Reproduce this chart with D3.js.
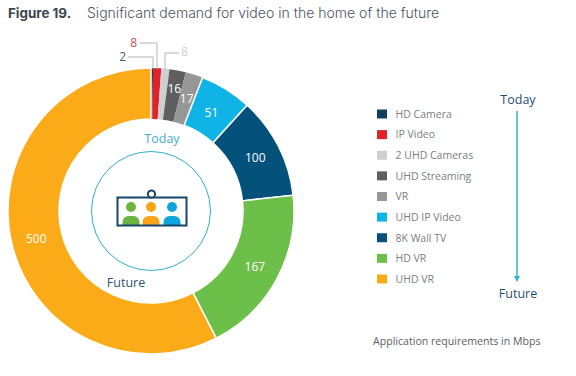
<!DOCTYPE html>
<html>
<head>
<meta charset="utf-8">
<script src="https://cdn.jsdelivr.net/npm/d3@7"></script>
<style>
  html, body { margin: 0; padding: 0; background: #fff; }
  svg { display: block; }
  text { font-family: "Open Sans", sans-serif; }
</style>
</head>
<body>
<svg id="chart" width="576" height="376"></svg>
<script>
const categories = ["HD Camera", "IP Video", "2 UHD Cameras", "UHD Streaming", "VR", "UHD IP Video", "8K Wall TV", "HD VR", "UHD VR"];
const values = [2, 8, 8, 16, 17, 51, 100, 167, 500];
const colors = ["#10405f", "#e0232a", "#cfcfcf", "#5f5f5f", "#979797", "#0fb3e6", "#04517c", "#6cc04a", "#fbab18"];
// how far from the centre each number inside a slice sits
const labelRadius = { 16: 125, 17: 118, 51: 115, 100: 117, 167: 118, 500: 118 };

const svg = d3.select("#chart");
const cx = 151, cy = 211;

svg.append("text").attr("x", 8).attr("y", 18)
  .style("font-family", "Inter")
  .attr("font-size", 13.4).attr("font-weight", 700).attr("fill", "#3c4650")
  .text("Figure 19.");
svg.append("text").attr("x", 87).attr("y", 18)
  .style("font-family", "Inter")
  .attr("font-size", 14.04).attr("font-weight", 300).attr("fill", "#4a545e")
  .text("Significant demand for video in the home of the future");

// donut
const pie = d3.pie().sort(null)(values);
const arc = d3.arc().innerRadius(92).outerRadius(143);
const g = svg.append("g").attr("transform", `translate(${cx},${cy})`);

g.selectAll("path").data(pie).enter().append("path")
  .attr("d", arc)
  .attr("fill", (d, i) => colors[i])
  .attr("stroke", "#fff")
  .attr("stroke-width", d => d.data >= 51 ? 1.5 : 0);

// labels inside the big enough slices
g.selectAll("text.inner").data(pie.filter(d => d.data >= 16)).enter().append("text")
  .attr("class", "inner")
  .attr("transform", d => {
    const r = labelRadius[d.data];
    const a = (d.startAngle + d.endAngle) / 2;
    return `translate(${r * Math.sin(a)},${-r * Math.cos(a)})`;
  })
  .attr("text-anchor", "middle").attr("dy", "0.36em")
  .attr("font-size", 12).attr("fill", "#fff")
  .text(d => d.data);

// callouts for the thin slices
const callouts = [
  { i: 0, lx: 126, ly: 57, bx: 153, by: 69, anchor: "end", color: "#3f5b70" },
  { i: 1, lx: 137, ly: 43, bx: 157, by: 69, anchor: "end", color: "#c0504d" },
  { i: 2, lx: 181, ly: 52, bx: 165, by: 69, anchor: "start", color: "#cfcfcf" }
];
callouts.forEach(c => {
  svg.append("path")
    .attr("d", d3.line()([[c.lx + (c.anchor === "end" ? 2 : -2), c.ly + (c.i === 2 ? 1 : 0)], [c.bx, c.ly + (c.i === 2 ? 1 : 0)], [c.bx, c.by]]))
    .attr("fill", "none").attr("stroke", "#b5b5b5").attr("stroke-width", 1);
  svg.append("text").attr("x", c.lx).attr("y", c.ly).attr("dy", "0.36em")
    .attr("text-anchor", c.anchor).attr("font-size", 12).attr("fill", c.color)
    .text(values[c.i]);
});

// centre
svg.append("text").attr("x", 162).attr("y", 143).attr("text-anchor", "middle")
  .attr("font-size", 12.5).attr("fill", "#45aed0").text("Today");
svg.append("text").attr("x", 126).attr("y", 287).attr("text-anchor", "middle")
  .attr("font-size", 12.5).attr("fill", "#2f5570").text("Future");

svg.append("circle").attr("cx", cx).attr("cy", cy).attr("r", 59.5)
  .attr("fill", "none").attr("stroke", "#2fb0c8").attr("stroke-width", 1);

// screen icon
const icon = svg.append("g");
const people = [[131, "#6cb33f"], [151, "#f9a51a"], [172, "#0ea5dd"]];
people.forEach(p => {
  icon.append("circle").attr("cx", p[0]).attr("cy", 207).attr("r", 5).attr("fill", p[1]);
  icon.append("path")
    .attr("d", `M${p[0] - 8.5},225 v-3 a6,6 0 0 1 6,-6 h5 a6,6 0 0 1 6,6 v3 z`)
    .attr("fill", p[1]);
});
icon.append("rect").attr("x", 117.5).attr("y", 197.5).attr("width", 69).attr("height", 28)
  .attr("fill", "none").attr("stroke", "#17456b").attr("stroke-width", 2);
icon.append("circle").attr("cx", 151.5).attr("cy", 194).attr("r", 3.6)
  .attr("fill", "#fff").attr("stroke", "#17456b").attr("stroke-width", 2);

// legend
const legendY = d3.scalePoint().domain(categories).range([114, 279]);
const legend = svg.append("g");
legend.selectAll("rect").data(categories).enter().append("rect")
  .attr("x", 377).attr("y", d => legendY(d) - 4.5)
  .attr("width", 10).attr("height", 9)
  .attr("fill", (d, i) => colors[i]);
legend.selectAll("text").data(categories).enter().append("text")
  .attr("x", 395.5).attr("y", d => legendY(d)).attr("dy", "0.36em")
  .attr("font-size", 10.5).attr("fill", "#7a7e82")
  .text(d => d);

// today to future arrow
svg.append("text").attr("x", 518).attr("y", 104).attr("text-anchor", "middle")
  .attr("font-size", 12.5).attr("fill", "#1f4f70").text("Today");
svg.append("text").attr("x", 518).attr("y", 298).attr("text-anchor", "middle")
  .attr("font-size", 12.5).attr("fill", "#1f4f70").text("Future");
svg.append("line").attr("x1", 517).attr("x2", 517).attr("y1", 111).attr("y2", 277)
  .attr("stroke", "#2fb3cc").attr("stroke-width", 1.5);
svg.append("path").attr("d", "M514,276 h6 l-3,6 z").attr("fill", "#2fb3cc");

svg.append("text").attr("x", 373).attr("y", 345)
  .attr("font-size", 10.6).attr("fill", "#5a6066")
  .text("Application requirements in Mbps");
</script>
</body>
</html>
